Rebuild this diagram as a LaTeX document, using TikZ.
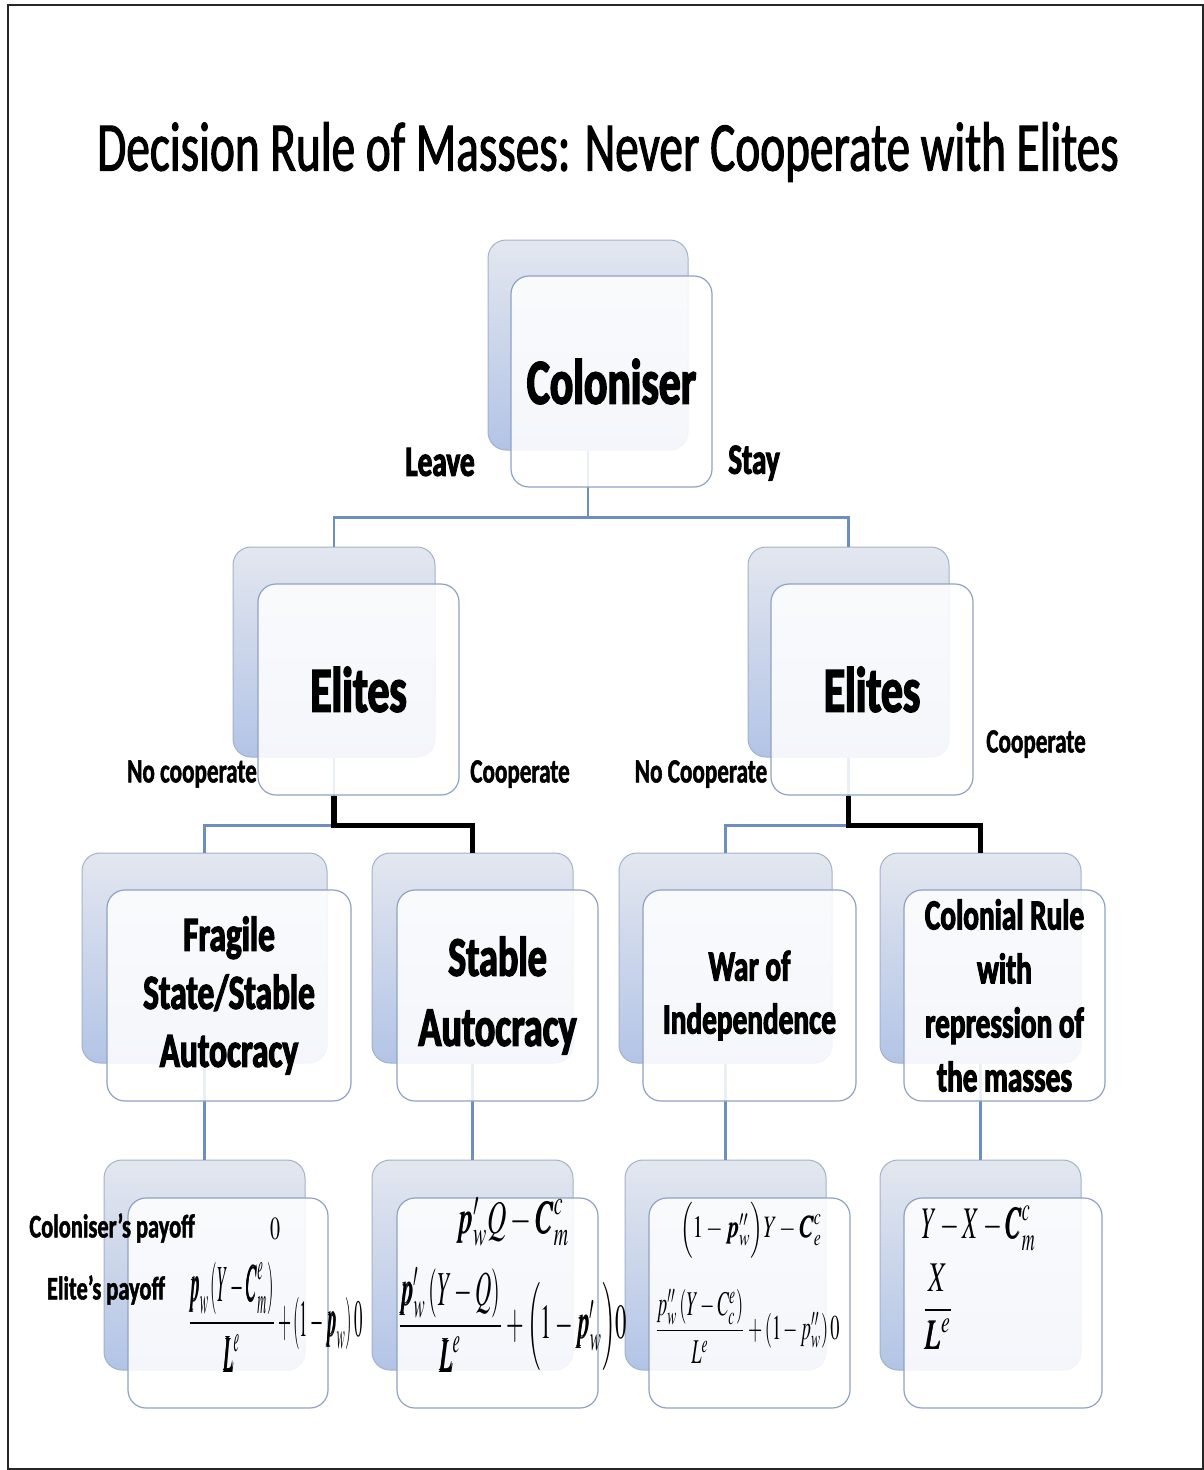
\documentclass[tikz,border=0pt]{standalone}
\usepackage{amsmath}
\usepackage{mathptmx}
\usepackage{bm}
\usepackage{graphicx}
\usepackage{fontspec}
\newfontfamily\cf[FakeStretch=0.675, FakeBold=1.4]{Carlito}
\newfontfamily\cfb[FakeStretch=0.68, FakeBold=2.4]{Carlito}
\newfontfamily\cfl[FakeStretch=0.68, FakeBold=1.4]{Carlito}
\definecolor{bktop}{HTML}{E3E7EF}
\definecolor{bkbot}{HTML}{B2C4E6}
\definecolor{bkline}{HTML}{A3B1CB}
\definecolor{frline}{HTML}{8FA2C6}
\definecolor{connblue}{HTML}{6D8EBF}
\newcommand{\fs}[2]{\fontsize{#1}{#2}\selectfont}
\begin{document}
\begin{tikzpicture}[x=1pt,y=-1pt,
  bk/.style={draw=bkline, line width=1pt, rounded corners=18pt, top color=bktop, bottom color=bkbot, inner sep=0pt},
  fr/.style={draw=frline, line width=1.2pt, rounded corners=18pt, fill=white, fill opacity=0.86, text opacity=1, inner sep=0pt, align=center},
  conn/.style={draw=connblue, line width=2.8pt},
  bconn/.style={draw=black, line width=5.5pt},
  lab/.style={inner sep=0pt, font=\cfl\bfseries\fs{34}{40}},
  big/.style={font=\cfb\bfseries\fs{64}{70}},
  mth/.style={inner sep=0pt}
]
\useasboundingbox (0,0) rectangle (1204,1470);
\draw[line width=2pt, black!85] (8,5) rectangle (1203,1469);

\node[inner sep=0pt, font=\cf\fs{70}{80}] (title) at (608,152) {Decision Rule of Masses: Never Cooperate with Elites};

% back boxes
\node[bk, minimum width=200pt, minimum height=210pt] (colB) at (588,345) {};
\node[bk, minimum width=202pt, minimum height=210pt] (eLB) at (334,652) {};
\node[bk, minimum width=201pt, minimum height=210pt] (eRB) at (848.5,652) {};
\node[bk, minimum width=245pt, minimum height=210pt] (fragB) at (204.5,958) {};
\node[bk, minimum width=201pt, minimum height=210pt] (stabB) at (472.5,958) {};
\node[bk, minimum width=213pt, minimum height=210pt] (warB) at (725.5,958) {};
\node[bk, minimum width=201pt, minimum height=210pt] (colrB) at (980.5,958) {};
\node[bk, minimum width=201pt, minimum height=210pt] (pay1B) at (204.5,1265) {};
\node[bk, minimum width=201pt, minimum height=210pt] (pay2B) at (472.5,1265) {};
\node[bk, minimum width=201pt, minimum height=210pt] (pay3B) at (725.5,1265) {};
\node[bk, minimum width=201pt, minimum height=210pt] (pay4B) at (980.5,1265) {};

% connectors
\draw[conn] (colB.south) -- ++(0,67) coordinate (j1);
\draw[conn] (j1) -| (eLB.north);
\draw[conn] (j1) -| (eRB.north);
\draw[conn] (eLB.south) -- ++(0,68) coordinate (jL);
\draw[conn] (jL) -| (fragB.north);
\draw[conn] (eRB.south) -- ++(0,68) coordinate (jR);
\draw[conn] (jR) -| (warB.north);
\draw[conn] (fragB.south) -- (pay1B.north);
\draw[conn] (stabB.south) -- (pay2B.north);
\draw[conn] (warB.south) -- (pay3B.north);
\draw[conn] (colrB.south) -- (pay4B.north);

% front boxes
\node[fr, minimum width=201pt, minimum height=211pt, big] (colF) at (611.5,381.5) {Coloniser};
\node[fr, minimum width=201pt, minimum height=211pt, big] (eLF) at (358.5,689.5) {Elites};
\node[fr, minimum width=202pt, minimum height=211pt, big] (eRF) at (872,689.5) {Elites};
\node[fr, minimum width=244pt, minimum height=211pt, font=\cfb\bfseries\fs{49}{58}] (fragF) at (229,995.5) {Fragile\\State/Stable\\Autocracy};
\node[fr, minimum width=201pt, minimum height=211pt, font=\cfb\bfseries\fs{56}{70}] (stabF) at (497.5,995.5) {Stable\\Autocracy};
\node[fr, minimum width=213pt, minimum height=211pt, font=\cfb\bfseries\fs{43}{53}] (warF) at (749.5,995.5) {War of\\Independence};
\node[fr, minimum width=201pt, minimum height=211pt, font=\cfb\bfseries\fs{43}{54}] (colrF) at (1004.5,995.5) {Colonial Rule\\with\\repression of\\the masses};
\node[fr, minimum width=200pt, minimum height=210pt] (pay1F) at (228,1303) {};
\node[fr, minimum width=201pt, minimum height=210pt] (pay2F) at (497.5,1303) {};
\node[fr, minimum width=201pt, minimum height=210pt] (pay3F) at (749.5,1303) {};
\node[fr, minimum width=198pt, minimum height=210pt] (pay4F) at (1003,1303) {};

% black (chosen) connectors
\draw[bconn] (jL |- eLF.south) -- (jL) -| (stabB.north);
\draw[bconn] (jR |- eRF.south) -- (jR) -| (colrB.north);

% labels
\node[lab, font=\cfb\bfseries\fs{43}{48}] (leave) at (440,462) {Leave};
\node[lab, font=\cfb\bfseries\fs{43}{48}] (stay) at (754,463) {Stay};
\node[lab] (ncL) at (192,774) {No cooperate};
\node[lab] (cL) at (520,774) {Cooperate};
\node[lab] (ncR) at (701,774) {No Cooperate};
\node[lab] (cR) at (1036,744) {Cooperate};
\node[lab, font=\cfl\bfseries\fs{33}{38}] (cpay) at (112,1228) {Coloniser’s payoff};
\node[lab, font=\cfl\bfseries\fs{33}{38}] (epay) at (106,1290) {Elite’s payoff};

% payoffs
\node[mth] (m1a) at (275,1229) {\resizebox*{10pt}{22pt}{$0$}};
\node[mth] (m1b) at (275,1317) {\resizebox*{175pt}{110pt}{$\dfrac{\bm{p}_w\left(Y-\bm{C}^e_m\right)}{\bm{L}^e}+\left(1-\bm{p}_w\right)0$}};
\node[mth] (m2a) at (513,1222) {\resizebox*{113pt}{48pt}{$\bm{p}'_w Q-\bm{C}^c_m$}};
\node[mth] (m2b) at (512,1320) {\resizebox*{230pt}{104pt}{$\dfrac{\bm{p}'_w\left(Y-Q\right)}{\bm{L}^e}+\Bigl(1-\bm{p}'_w\Bigr)0$}};
\node[mth] (m3a) at (751,1230) {\resizebox*{142pt}{56pt}{$\Bigl(1-\bm{p}''_w\Bigr)Y-\bm{C}^c_e$}};
\node[mth] (m3b) at (747,1326) {\resizebox*{185pt}{74pt}{$\dfrac{p''_w\left(Y-C^e_c\right)}{L^e}+\left(1-p''_w\right)0$}};
\node[mth] (m4a) at (979,1228) {\resizebox*{114pt}{45pt}{$Y-X-\bm{C}^c_m$}};
\node[mth] (m4b) at (938,1307) {\resizebox*{33pt}{85pt}{$\dfrac{X}{\bm{L}^e}$}};
\end{tikzpicture}
\end{document}
